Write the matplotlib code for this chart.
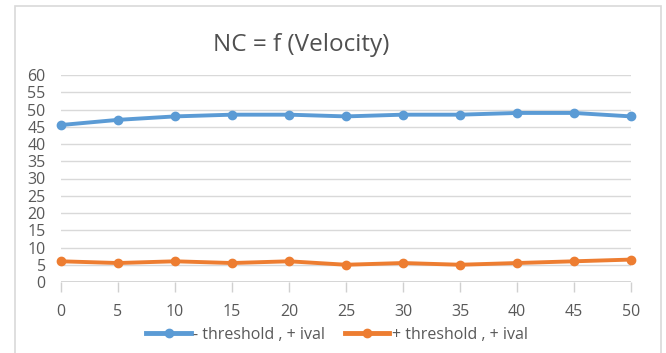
import matplotlib
matplotlib.use("Agg")
import matplotlib.pyplot as plt
from matplotlib.patches import Rectangle

velocity = [0, 5, 10, 15, 20, 25, 30, 35, 40, 45, 50]
neg_threshold = [45.5, 47, 48, 48.5, 48.5, 48, 48.5, 48.5, 49, 49, 48]
pos_threshold = [6, 5.5, 6, 5.5, 6, 5, 5.5, 5, 5.5, 6, 6.5]
yticks = list(range(0, 61, 5))
title = "NC = f (Velocity)"
labels = ["- threshold , + ival", "+ threshold , + ival"]

plt.rcParams['font.family'] = ['Open Sans', 'DejaVu Sans']

W, H = 666, 353
fig = plt.figure(figsize=(W / 100, H / 100), dpi=100)
fig.patch.set_facecolor("white")
fig.patches.append(Rectangle((15 / W, -5 / H), 646 / W, (H - 6 + 5) / H, transform=fig.transFigure,
                             fill=False, edgecolor="#d9d9d9", linewidth=1.2))

ax = fig.add_axes([61 / W, 1 - 282 / H, (631 - 61) / W, (282 - 75) / H])
for s in ax.spines.values():
    s.set_visible(False)
ax.set_xlim(0, 50)
ax.set_ylim(0, 60)
ax.set_yticks(yticks)
ax.set_xticks(velocity)
ax.grid(axis="y", color="#d9d9d9", linewidth=1)
ax.set_axisbelow(True)
ax.axhline(0, color="#d0d0d0", linewidth=1.2, zorder=1)
ax.tick_params(axis="y", length=0, labelsize=11.5, labelcolor="#595959", pad=11)
ax.tick_params(axis="x", length=7, width=1, color="#d0d0d0", labelsize=11.5, labelcolor="#595959", pad=9)

c1, c2 = "#5B9BD5", "#ED7D31"
ax.plot(velocity, neg_threshold, color=c1, linewidth=2.8, marker="o", markersize=6,
        label=labels[0], clip_on=False, zorder=3)
ax.plot(velocity, pos_threshold, color=c2, linewidth=2.8, marker="o", markersize=6,
        label=labels[1], clip_on=False, zorder=3)

fig.text(301 / W, 1 - 45 / H, title, ha="center", va="center", fontsize=17.5, color="#505050")

leg = fig.legend(loc="center", bbox_to_anchor=(337 / W, 1 - 335 / H), ncol=2, frameon=False,
                 fontsize=11.5, handlelength=2.8, columnspacing=1.2, handletextpad=0.15,
                 borderaxespad=0, borderpad=0)
for t in leg.get_texts():
    t.set_color("#595959")
for h in leg.legend_handles:
    h.set_linewidth(3.5)

fig.savefig("out.png", dpi=100)
